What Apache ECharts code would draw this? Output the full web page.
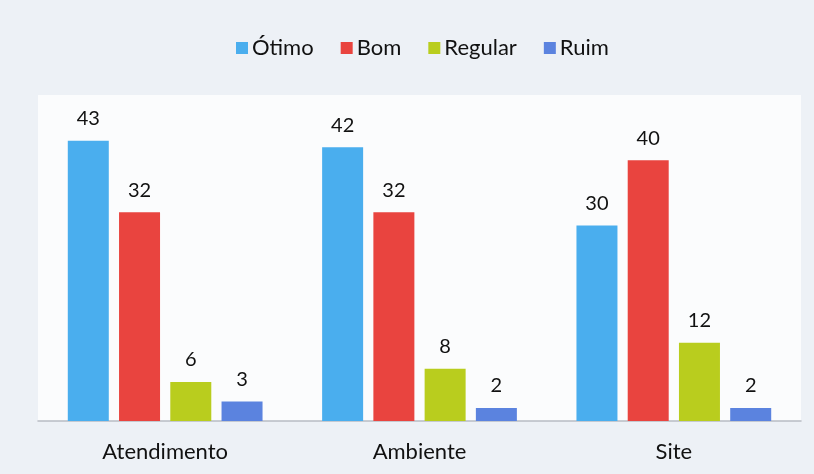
<!DOCTYPE html>
<html><head><meta charset="utf-8">
<script src="https://cdn.jsdelivr.net/npm/echarts@6/dist/echarts.min.js"></script>
<style>html,body{margin:0;padding:0;background:#edf1f6;}#c{width:814px;height:474px;}</style>
</head><body><div id="c"></div>
<script>
const categories = ['Atendimento', 'Ambiente', 'Site'];
const otimo = [43, 42, 30];
const bom = [32, 32, 40];
const regular = [6, 8, 12];
const ruim = [3, 2, 2];
const seriesNames = ['Ótimo', 'Bom', 'Regular', 'Ruim'];
const colors = ['#4aaeee', '#e9443f', '#b9cd1e', '#5b83df'];
const values = [otimo, bom, regular, ruim];
const font = 'Lato, "Open Sans", sans-serif';

const chart = echarts.init(document.getElementById('c'));
chart.setOption({
  backgroundColor: '#edf1f6',
  animation: false,
  color: colors,
  legend: {
    top: 32, left: 231,
    itemWidth: 12, itemHeight: 12, itemGap: 27,
    icon: 'rect',
    textStyle: { fontFamily: font, fontSize: 22, color: '#111', padding: [0, 0, 0, -1] },
    data: seriesNames
  },
  grid: { left: 38, right: 13, top: 95, bottom: 53, show: true, backgroundColor: '#fbfcfd', borderWidth: 0 },
  xAxis: {
    type: 'category', data: categories,
    axisLine: { lineStyle: { color: '#b8bcc4', width: 1.5 } },
    axisTick: { show: false },
    axisLabel: { fontFamily: font, fontSize: 22, color: '#111', margin: 20 }
  },
  yAxis: { type: 'value', min: 0, max: 50, show: false, splitLine: { show: false } },
  series: seriesNames.map((n, i) => ({
    name: n, type: 'bar', data: values[i],
    barWidth: 41, barGap: '25%',
    itemStyle: { color: colors[i] },
    label: { show: true, position: 'top', distance: 12, fontFamily: font, fontSize: 20, color: '#111' }
  }))
});
</script></body></html>
